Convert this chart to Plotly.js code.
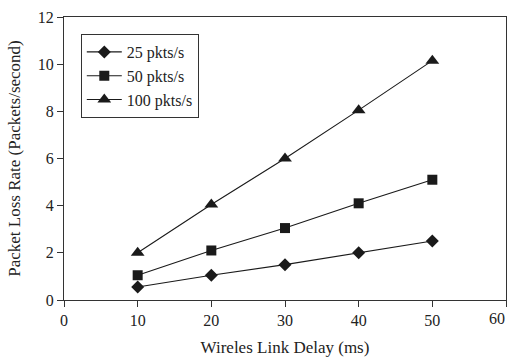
<!DOCTYPE html>
<html><head><meta charset="utf-8">
<script src="https://cdn.plot.ly/plotly-3.0.1.min.js"></script>
<style>body{margin:0;background:#fff}#c{width:507px;height:357px}</style>
</head><body><div id="c"></div>
<script>
const delays = [10, 20, 30, 40, 50];
const rate25 = [0.55, 1.05, 1.5, 2.0, 2.5];
const rate50 = [1.05, 2.1, 3.05, 4.1, 5.1];
const rate100 = [2.0, 4.05, 6.0, 8.05, 10.15];
const names = ['25 pkts/s', '50 pkts/s', '100 pkts/s'];
const xTickVals = [0, 10, 20, 30, 40, 50, 60];
const xTickText = ['0', '10', '20', '30', '40', '50', ''];
const lastXLabel = '60';

const mk = (y, name, sym, size) => ({
  x: delays, y: y, name: name, type: 'scatter', mode: 'lines+markers',
  line: {color: '#1a1a1a', width: 1.1},
  marker: {symbol: sym, size: size, color: '#1a1a1a'}
});
const data = [
  mk(rate25, names[0], 'diamond', 10),
  mk(rate50, names[1], 'square', 10),
  mk(rate100, names[2], 'triangle-up', 12)
];
const fam = 'Liberation Serif, Times New Roman, serif';
const font = {family: fam, size: 16, color: '#222'};
const layout = {
  width: 507, height: 357,
  margin: {l: 64, r: 1, t: 17, b: 57},
  paper_bgcolor: '#fff', plot_bgcolor: '#fff',
  font: font,
  showlegend: true,
  legend: {x: 0.038, y: 0.94, xanchor: 'left', yanchor: 'top',
    bordercolor: '#333', borderwidth: 1, bgcolor: '#fff', itemwidth: 35,
    font: {family: fam, size: 16, color: '#222'}, tracegroupgap: 0},
  xaxis: {range: [0, 60], tickmode: 'array', tickvals: xTickVals, ticktext: xTickText,
    showgrid: false, zeroline: false,
    showline: true, linecolor: '#333', linewidth: 1, mirror: true,
    ticks: 'outside', ticklen: 6, tickcolor: '#333',
    tickfont: {family: fam, size: 16, color: '#222'},
    title: {text: 'Wireles Link Delay (ms)', font: {family: fam, size: 17}, standoff: 16}},
  yaxis: {range: [0, 12], dtick: 2, tick0: 0, showgrid: false, zeroline: false,
    showline: true, linecolor: '#333', linewidth: 1, mirror: true,
    ticks: 'outside', ticklen: 6, tickcolor: '#333',
    tickfont: {family: fam, size: 16, color: '#222'},
    title: {text: 'Packet Loss Rate (Packets/second)', font: {family: fam, size: 17}, standoff: 12}},
  annotations: [{x: 60, xref: 'x', y: 0, yref: 'y', text: lastXLabel, showarrow: false,
    xanchor: 'right', yanchor: 'top', xshift: 1, yshift: -8,
    font: {family: fam, size: 16, color: '#222'}}]
};
Plotly.newPlot('c', data, layout, {displayModeBar: false, staticPlot: true});
</script></body></html>
